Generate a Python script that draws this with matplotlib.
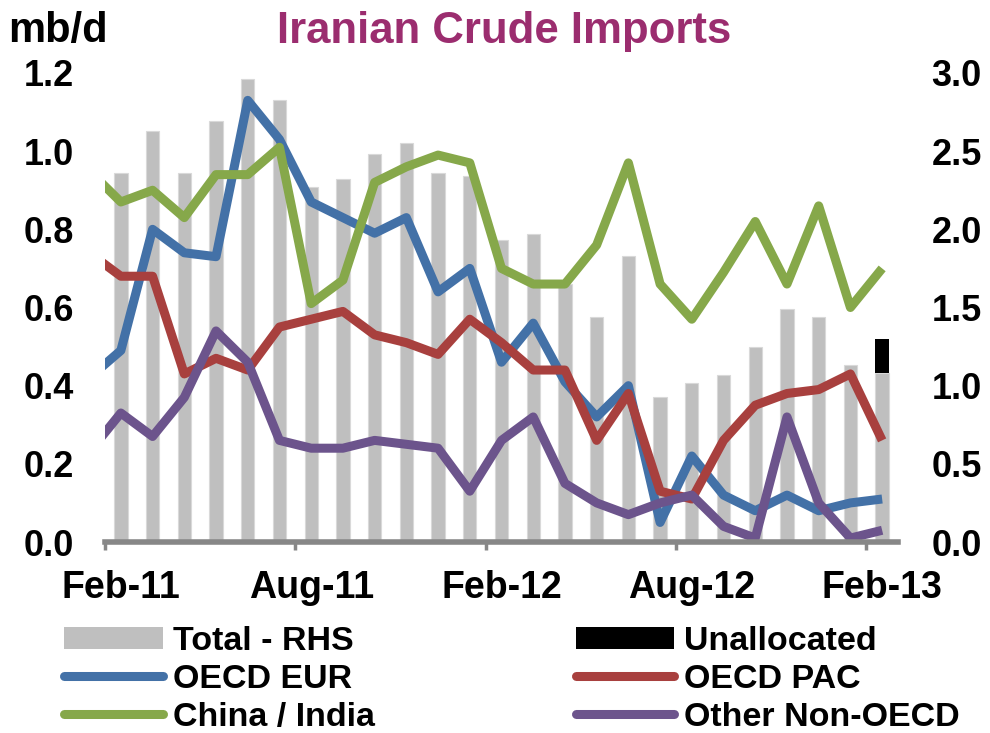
import matplotlib
matplotlib.use("Agg")
import matplotlib.pyplot as plt
from matplotlib.patches import Patch
from matplotlib.lines import Line2D
import numpy as np

# ---- data ----
months = ['Feb-11', 'Mar-11', 'Apr-11', 'May-11', 'Jun-11', 'Jul-11', 'Aug-11', 'Sep-11',
          'Oct-11', 'Nov-11', 'Dec-11', 'Jan-12', 'Feb-12', 'Mar-12', 'Apr-12', 'May-12',
          'Jun-12', 'Jul-12', 'Aug-12', 'Sep-12', 'Oct-12', 'Nov-12', 'Dec-12', 'Jan-13', 'Feb-13']
tick_labels = ['Feb-11', 'Aug-11', 'Feb-12', 'Aug-12', 'Feb-13']

total_rhs = [2.36, 2.63, 2.36, 2.69, 2.96, 2.83, 2.27, 2.32, 2.48, 2.55, 2.36, 2.34, 1.93,
             1.97, 1.65, 1.44, 1.83, 0.93, 1.02, 1.07, 1.25, 1.49, 1.44, 1.13, 1.08]
unallocated_rhs = [0, 0, 0, 0, 0, 0, 0, 0, 0, 0, 0, 0, 0, 0, 0, 0, 0, 0, 0, 0, 0, 0, 0, 0, 0.22]

# line series start one month earlier (Jan-11), clipped at the left edge
line_months = ['Jan-11'] + months
oecd_eur = [0.42, 0.49, 0.80, 0.74, 0.73, 1.13, 1.03, 0.87, 0.83, 0.79, 0.83, 0.64, 0.70,
            0.46, 0.56, 0.41, 0.32, 0.40, 0.05, 0.22, 0.12, 0.08, 0.12, 0.08, 0.10, 0.11]
oecd_pac = [0.74, 0.68, 0.68, 0.43, 0.47, 0.44, 0.55, 0.57, 0.59, 0.53, 0.51, 0.48, 0.57,
            0.51, 0.44, 0.44, 0.26, 0.38, 0.13, 0.11, 0.26, 0.35, 0.38, 0.39, 0.43, 0.26]
china_india = [0.95, 0.87, 0.90, 0.83, 0.94, 0.94, 1.01, 0.61, 0.67, 0.92, 0.96, 0.99, 0.97,
               0.70, 0.66, 0.66, 0.76, 0.97, 0.66, 0.57, 0.69, 0.82, 0.66, 0.86, 0.60, 0.70]
other_non_oecd = [0.23, 0.33, 0.27, 0.37, 0.54, 0.46, 0.26, 0.24, 0.24, 0.26, 0.25, 0.24, 0.13,
                  0.26, 0.32, 0.15, 0.10, 0.07, 0.10, 0.12, 0.04, 0.01, 0.32, 0.10, 0.01, 0.03]

# ---- style ----
C_GRAY = '#BFBFBF'
C_BLUE = '#4371A7'
C_RED = '#A8403E'
C_GREEN = '#86A84A'
C_PURPLE = '#6C548C'
C_TITLE = '#9B2D6F'
C_AXIS = '#878787'
LW = 6.5

plt.rcParams['font.family'] = ['Liberation Sans', 'DejaVu Sans']
plt.rcParams['font.weight'] = 'bold'

fig = plt.figure(figsize=(9.9, 7.33), dpi=100)
ax = fig.add_axes([105 / 990, 1 - 542 / 733, (898 - 105) / 990, (542 - 73) / 733])
ax2 = ax.twinx()
ax.set_zorder(ax2.get_zorder() + 1)
ax.patch.set_visible(False)

x = np.arange(len(months))
xl = np.arange(len(line_months)) - 1

# bars on RHS axis
ax2.bar(x, total_rhs, width=0.42, color=C_GRAY, edgecolor='#D9D9D9', linewidth=0.8)
ax2.bar(x, unallocated_rhs, width=0.42, bottom=total_rhs, color='black', linewidth=0)

# lines on LHS axis
for vals, col in [(oecd_eur, C_BLUE), (oecd_pac, C_RED), (china_india, C_GREEN),
                  (other_non_oecd, C_PURPLE)]:
    ax.plot(xl, vals, color=col, lw=LW, solid_joinstyle='round', solid_capstyle='butt')

ax.set_xlim(-0.5, len(months) - 0.5)
ax.set_ylim(0, 1.2)
ax2.set_ylim(0, 3.0)

ax.set_yticks(np.arange(0, 1.21, 0.2))
ax.set_yticklabels([f'{v:.1f}' for v in np.arange(0, 1.21, 0.2)])
ax2.set_yticks(np.arange(0, 3.01, 0.5))
ax2.set_yticklabels([f'{v:.1f}' for v in np.arange(0, 3.01, 0.5)])

# x ticks: labels at category centres, marks at category boundaries
label_pos = [months.index(m) for m in tick_labels]
ax.set_xticks(label_pos)
ax.set_xticklabels(tick_labels)
ax.tick_params(axis='x', which='major', length=0, pad=20, labelsize=27)
ax.set_xticks([p - 0.5 for p in label_pos], minor=True)
ax.tick_params(axis='x', which='minor', length=6, width=2.5, color=C_AXIS, direction='out')

ax.tick_params(axis='y', length=0, pad=22, labelsize=26)
ax2.tick_params(axis='y', length=0, pad=24, labelsize=26)

for a in (ax, ax2):
    for s in ('top', 'left', 'right', 'bottom'):
        a.spines[s].set_visible(False)
ax.spines['bottom'].set_visible(True)
ax.spines['bottom'].set_color(C_AXIS)
ax.spines['bottom'].set_linewidth(4)
ax2.tick_params(axis='x', length=0, labelbottom=False)

fig.text(504 / 990, 1 - 43 / 733, 'Iranian Crude Imports', ha='center', va='baseline',
         fontsize=31.5, fontweight='bold', color=C_TITLE)
fig.text(8 / 990, 1 - 42 / 733, 'mb/d', ha='left', va='baseline', fontsize=30,
         fontweight='bold', color='black')

handles = [
    Patch(facecolor=C_GRAY, edgecolor='none', label='Total - RHS'),
    Line2D([], [], color=C_BLUE, lw=LW, solid_capstyle='round', label='OECD EUR'),
    Line2D([], [], color=C_GREEN, lw=LW, solid_capstyle='round', label='China / India'),
    Patch(facecolor='black', edgecolor='none', label='Unallocated'),
    Line2D([], [], color=C_RED, lw=LW, solid_capstyle='round', label='OECD PAC'),
    Line2D([], [], color=C_PURPLE, lw=LW, solid_capstyle='round', label='Other Non-OECD'),
]
fig.legend(handles=handles, ncol=2, loc='upper left', bbox_to_anchor=(64 / 990, 1 - 626 / 733),
           frameon=False, prop={'size': 24.5, 'weight': 'bold'}, handlelength=2.9,
           handleheight=0.6, handletextpad=0.3, labelspacing=0.2, columnspacing=5.9,
           borderpad=0, borderaxespad=0)

fig.savefig('out.png', dpi=100)
